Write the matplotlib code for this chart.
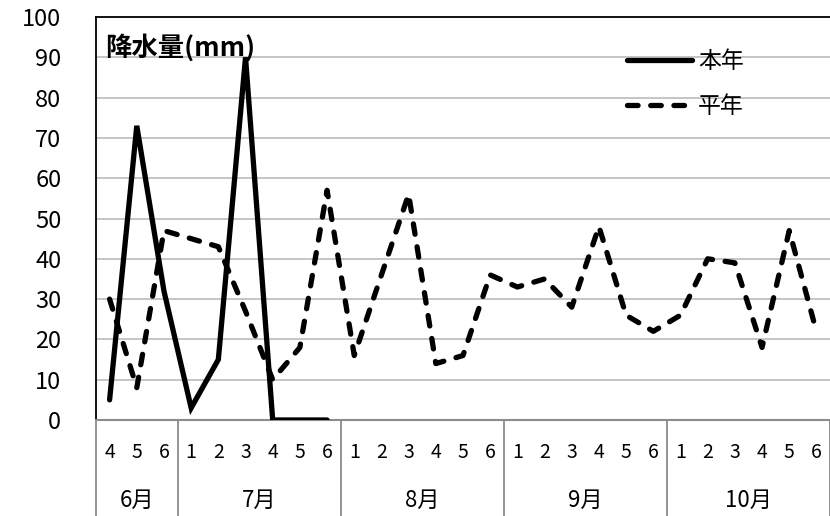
import matplotlib.pyplot as plt
import numpy as np

plt.rcParams['font.family'] = ['Noto Sans CJK JP', 'DejaVu Sans']

# 旬ごとの降水量 (mm)
months = ['6月', '7月', '8月', '9月', '10月']
weeks_per_month = [3, 6, 6, 6, 6]
week_labels = ['4', '5', '6'] + ['1', '2', '3', '4', '5', '6'] * 4
this_year = [5, 73, 32, 3, 15, 90, 0, 0, 0]
normal_year = [30, 8, 47, 45, 43, 27, 10, 18, 57,
               16, 36, 56, 14, 16, 36,
               33, 35, 28, 48, 26, 22,
               26, 40, 39, 18, 47, 22]

W, H = 830, 516
fig = plt.figure(figsize=(W / 100, H / 100), dpi=100)
ax = fig.add_axes([96 / W, 1 - 420 / H, (830 - 96) / W, (420 - 17) / H])

n = len(week_labels)
x = np.arange(n)
ax.set_xlim(-0.5, n - 0.5)
ax.set_ylim(0, 100)

ax.set_yticks(np.arange(0, 101, 10))
ax.tick_params(axis='y', length=0, pad=25, labelsize=17)
ax.set_xticks([])
for v in range(10, 100, 10):
    ax.axhline(v, color='#c0c0c0', lw=1.3, zorder=1)

for s in ['top', 'left']:
    ax.spines[s].set_color('black')
    ax.spines[s].set_linewidth(1.3)
ax.spines['right'].set_visible(False)
ax.spines['bottom'].set_color('#8c8c8c')
ax.spines['bottom'].set_linewidth(1.5)

ax.plot(x[:len(this_year)], this_year, color='black', lw=3.8,
        solid_capstyle='round', solid_joinstyle='miter', zorder=3, label='本年')
ax.plot(x, normal_year, color='black', lw=3.8, dashes=(2.0, 2.4),
        dash_capstyle='round', zorder=3, label='平年')

# 軸下の旬・月ラベル
trans = ax.get_xaxis_transform()
for i, lab in enumerate(week_labels):
    ax.text(i, -0.08, lab, transform=trans, ha='center', va='center', fontsize=14)
start = 0
bounds = [0]
for m, k in zip(months, weeks_per_month):
    ax.text(start + (k - 1) / 2, -0.2, m, transform=trans, ha='center',
            va='center', fontsize=16)
    start += k
    bounds.append(start)
for b in bounds:
    ax.plot([b - 0.5, b - 0.5], [0, -0.24], transform=trans, color='#8c8c8c',
            lw=1.3, clip_on=False)

ax.text(0.012, 0.923, '降水量(mm)', transform=ax.transAxes, fontsize=19,
        fontweight='bold', ha='left', va='center')

leg = ax.legend(loc='upper left', bbox_to_anchor=(0.7234, 0.918), frameon=False,
                fontsize=16.5, handlelength=2.84, handletextpad=0.26,
                labelspacing=0.95, borderpad=0, borderaxespad=0)

fig.savefig('out.png', dpi=100)
